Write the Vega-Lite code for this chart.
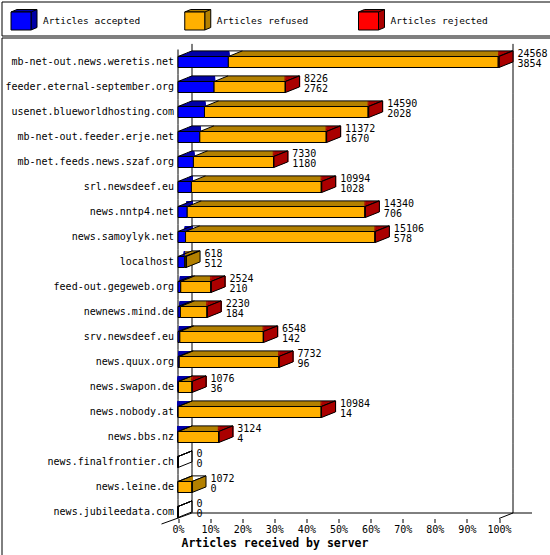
{
  "$schema": "https://vega.github.io/schema/vega-lite/v6.json",
  "padding": 0.5,
  "spacing": 0,
  "background": "white",
  "config": {"view": {"stroke": "black", "strokeWidth": 1}, "font": "DejaVu Sans Mono"},
  "vconcat": [
    {
      "width": 549,
      "height": 34,
      "data": {"values": [
        {"type": "accepted", "label": "Articles accepted"},
        {"type": "refused", "label": "Articles refused"},
        {"type": "rejected", "label": "Articles rejected"}
      ]},
      "encoding": {
        "x": {"field": "type", "type": "nominal", "sort": null, "scale": {"type": "point", "range": [19.5, 367], "padding": 0}, "axis": null}
      },
      "layer": [
        {
          "mark": {"type": "point", "filled": true, "opacity": 1, "size": 400, "stroke": "black", "strokeWidth": 1, "yOffset": 2.5,
            "shape": "M -1 -0.9 L -0.4 -1.15 L 1.6 -1.15 L 1.6 0.65 L 1 0.9 L 1 -0.9 Z M 1 -0.9 L 1.6 -1.15"},
          "encoding": {"fill": {"field": "type", "type": "nominal", "scale": {"domain": ["accepted", "refused", "rejected"], "range": ["#0000a8", "#b38000", "#aa0000"]}, "legend": null}}
        },
        {
          "mark": {"type": "point", "filled": true, "opacity": 1, "size": 400, "stroke": "black", "strokeWidth": 1, "yOffset": 2.5,
            "shape": "M -1 -0.9 L 1 -0.9 L 1 0.9 L -1 0.9 Z"},
          "encoding": {"color": {"field": "type", "type": "nominal", "scale": {"domain": ["accepted", "refused", "rejected"], "range": ["#0000ff", "#ffb000", "#ff0000"]}, "legend": null}}
        },
        {
          "mark": {"type": "text", "align": "left", "baseline": "middle", "dx": 22, "yOffset": 2.5, "fontSize": 9.5, "font": "DejaVu Sans Mono", "color": "black"},
          "encoding": {"text": {"field": "label", "type": "nominal"}}
        }
      ]
    },
    {
      "width": 549,
      "height": 519,
      "data": {"values": [
        {"server": "mb-net-out.news.weretis.net", "offered": 24568, "accepted": 3854, "refused": 20654, "rejected": 60},
        {"server": "feeder.eternal-september.org", "offered": 8226, "accepted": 2762, "refused": 5444, "rejected": 20},
        {"server": "usenet.blueworldhosting.com", "offered": 14590, "accepted": 2028, "refused": 12522, "rejected": 40},
        {"server": "mb-net-out.feeder.erje.net", "offered": 11372, "accepted": 1670, "refused": 9672, "rejected": 30},
        {"server": "mb-net.feeds.news.szaf.org", "offered": 7330, "accepted": 1180, "refused": 6130, "rejected": 20},
        {"server": "srl.newsdeef.eu", "offered": 10994, "accepted": 1028, "refused": 9936, "rejected": 30},
        {"server": "news.nntp4.net", "offered": 14340, "accepted": 706, "refused": 13594, "rejected": 40},
        {"server": "news.samoylyk.net", "offered": 15106, "accepted": 578, "refused": 14488, "rejected": 40},
        {"server": "localhost", "offered": 618, "accepted": 512, "refused": 106, "rejected": 0},
        {"server": "feed-out.gegeweb.org", "offered": 2524, "accepted": 210, "refused": 2304, "rejected": 10},
        {"server": "newnews.mind.de", "offered": 2230, "accepted": 184, "refused": 2036, "rejected": 10},
        {"server": "srv.newsdeef.eu", "offered": 6548, "accepted": 142, "refused": 6386, "rejected": 20},
        {"server": "news.quux.org", "offered": 7732, "accepted": 96, "refused": 7616, "rejected": 20},
        {"server": "news.swapon.de", "offered": 1076, "accepted": 36, "refused": 1036, "rejected": 4},
        {"server": "news.nobody.at", "offered": 10984, "accepted": 14, "refused": 10940, "rejected": 30},
        {"server": "news.bbs.nz", "offered": 3124, "accepted": 4, "refused": 3110, "rejected": 10},
        {"server": "news.finalfrontier.ch", "offered": 0, "accepted": 0, "refused": 0, "rejected": 0},
        {"server": "news.leine.de", "offered": 1072, "accepted": 0, "refused": 1072, "rejected": 0},
        {"server": "news.jubileedata.com", "offered": 0, "accepted": 0, "refused": 0, "rejected": 0}
      ]},
      "transform": [
        {"joinaggregate": [{"op": "max", "field": "offered", "as": "maxoffered"}]},
        {"fold": ["accepted", "refused", "rejected"], "as": ["type", "count"]},
        {"stack": "count", "groupby": ["server"], "sort": [{"field": "type", "order": "ascending"}], "as": ["x0", "x1"]}
      ],
      "layer": [
        {
          "transform": [{"filter": "datum.type == 'accepted' && datum.server != 'news.jubileedata.com'"}],
          "mark": {"type": "point", "filled": false, "opacity": 1, "size": 400, "color": "black", "strokeWidth": 1,
            "shape": "M 0 -1.25 L 0 1.25 M 1.4 -1.81 L 1.4 0.69"},
          "encoding": {"x": {"field": "x0", "type": "quantitative"}, "y": {"field": "server", "type": "nominal"}}
        },
        {
          "transform": [{"filter": "datum.type == 'accepted' && datum.server == 'news.jubileedata.com'"}],
          "mark": {"type": "point", "filled": false, "opacity": 1, "size": 400, "color": "black", "strokeWidth": 1,
            "shape": "M 0 -1.25 L 0 0.65 M 1.4 -1.81 L 1.4 0.1 M -1.65 1.2 L 1.4 0.1"},
          "encoding": {"x": {"field": "x0", "type": "quantitative"}, "y": {"field": "server", "type": "nominal"}}
        },
        {
          "transform": [{"filter": "datum.type == 'accepted' && datum.server != 'news.jubileedata.com'"}],
          "mark": {"type": "point", "filled": false, "opacity": 1, "size": 400, "color": "black", "strokeWidth": 1,
            "shape": "M 1.4 -1.81 L 1.4 0.69"},
          "encoding": {"x": {"field": "maxoffered", "type": "quantitative"}, "y": {"field": "server", "type": "nominal"}}
        },
        {
          "transform": [{"filter": "datum.type == 'accepted' && datum.server == 'news.jubileedata.com'"}],
          "mark": {"type": "point", "filled": false, "opacity": 1, "size": 400, "color": "black", "strokeWidth": 1,
            "shape": "M 1.4 -1.81 L 1.4 0.1 M 0 0.65 L 1.4 0.1"},
          "encoding": {"x": {"field": "maxoffered", "type": "quantitative"}, "y": {"field": "server", "type": "nominal"}}
        },
        {
          "transform": [{"filter": "datum.type == 'accepted' && datum.server == 'news.jubileedata.com'"}],
          "mark": {"type": "rule", "color": "black", "strokeWidth": 1, "xOffset": 14, "x2Offset": 33, "yOffset": 1},
          "encoding": {"x": {"field": "x0", "type": "quantitative"}, "x2": {"field": "maxoffered"}, "y": {"field": "server", "type": "nominal"}}
        },
        {
          "transform": [{"filter": "datum.count > 0"}],
          "mark": {"type": "bar", "height": 9, "strokeWidth": 2, "xOffset": 14, "yOffset": -5.6},
          "encoding": {
            "y": {"field": "server", "type": "nominal"}, "x": {"field": "x0", "type": "quantitative"}, "x2": {"field": "x1"},
            "fill": {"field": "type", "type": "nominal", "scale": {"domain": ["accepted", "refused", "rejected"], "range": ["#0000a8", "#b38000", "#aa0000"]}, "legend": null},
            "stroke": {"field": "type", "type": "nominal", "scale": {"domain": ["accepted", "refused", "rejected"], "range": ["#0000a8", "#b38000", "#aa0000"]}, "legend": null}
          }
        },
        {
          "transform": [{"filter": "datum.count > 0"}],
          "mark": {"type": "bar", "height": 9, "strokeWidth": 2, "xOffset": 12, "yOffset": -4.8},
          "encoding": {
            "y": {"field": "server", "type": "nominal"}, "x": {"field": "x0", "type": "quantitative"}, "x2": {"field": "x1"},
            "fill": {"field": "type", "type": "nominal", "legend": null}, "stroke": {"field": "type", "type": "nominal", "legend": null}
          }
        },
        {
          "transform": [{"filter": "datum.count > 0"}],
          "mark": {"type": "bar", "height": 9, "strokeWidth": 2, "xOffset": 10, "yOffset": -4},
          "encoding": {
            "y": {"field": "server", "type": "nominal"}, "x": {"field": "x0", "type": "quantitative"}, "x2": {"field": "x1"},
            "fill": {"field": "type", "type": "nominal", "legend": null}, "stroke": {"field": "type", "type": "nominal", "legend": null}
          }
        },
        {
          "transform": [{"filter": "datum.count > 0"}],
          "mark": {"type": "bar", "height": 9, "strokeWidth": 2, "xOffset": 8, "yOffset": -3.2},
          "encoding": {
            "y": {"field": "server", "type": "nominal"}, "x": {"field": "x0", "type": "quantitative"}, "x2": {"field": "x1"},
            "fill": {"field": "type", "type": "nominal", "legend": null}, "stroke": {"field": "type", "type": "nominal", "legend": null}
          }
        },
        {
          "transform": [{"filter": "datum.count > 0"}],
          "mark": {"type": "bar", "height": 9, "strokeWidth": 2, "xOffset": 6, "yOffset": -2.4},
          "encoding": {
            "y": {"field": "server", "type": "nominal"}, "x": {"field": "x0", "type": "quantitative"}, "x2": {"field": "x1"},
            "fill": {"field": "type", "type": "nominal", "legend": null}, "stroke": {"field": "type", "type": "nominal", "legend": null}
          }
        },
        {
          "transform": [{"filter": "datum.count > 0"}],
          "mark": {"type": "bar", "height": 9, "strokeWidth": 2, "xOffset": 4, "yOffset": -1.6},
          "encoding": {
            "y": {"field": "server", "type": "nominal"}, "x": {"field": "x0", "type": "quantitative"}, "x2": {"field": "x1"},
            "fill": {"field": "type", "type": "nominal", "legend": null}, "stroke": {"field": "type", "type": "nominal", "legend": null}
          }
        },
        {
          "transform": [{"filter": "datum.count > 0"}],
          "mark": {"type": "bar", "height": 9, "strokeWidth": 2, "xOffset": 2, "yOffset": -0.8},
          "encoding": {
            "y": {"field": "server", "type": "nominal"}, "x": {"field": "x0", "type": "quantitative"}, "x2": {"field": "x1"},
            "fill": {"field": "type", "type": "nominal", "legend": null}, "stroke": {"field": "type", "type": "nominal", "legend": null}
          }
        },
        {
          "transform": [{"filter": "datum.type == 'accepted' && datum.offered > 0"}],
          "mark": {"type": "rule", "color": "black", "strokeWidth": 1, "xOffset": 14, "x2Offset": 14, "yOffset": -11.1},
          "encoding": {"x": {"field": "x0", "type": "quantitative"}, "x2": {"field": "offered"}, "y": {"field": "server", "type": "nominal"}}
        },
        {
          "mark": {"type": "point", "filled": false, "opacity": 1, "size": 400, "color": "black", "strokeWidth": 1,
            "shape": "M 0 -0.55 L 1.4 -1.11"},
          "encoding": {"x": {"field": "x0", "type": "quantitative"}, "y": {"field": "server", "type": "nominal"}}
        },
        {
          "transform": [{"filter": "datum.type == 'accepted' && datum.rejected > 0"}],
          "mark": {"type": "point", "filled": true, "opacity": 1, "size": 400, "fill": "#aa0000", "stroke": "black", "strokeWidth": 1,
            "shape": "M 0 -0.55 L 1.4 -1.11 L 1.4 -0.01 L 0 0.55 Z"},
          "encoding": {"x": {"field": "offered", "type": "quantitative"}, "y": {"field": "server", "type": "nominal"}}
        },
        {
          "transform": [{"filter": "datum.type == 'accepted' && datum.rejected == 0 && datum.offered > 0"}],
          "mark": {"type": "point", "filled": true, "opacity": 1, "size": 400, "fill": "#b38000", "stroke": "black", "strokeWidth": 1,
            "shape": "M 0 -0.55 L 1.4 -1.11 L 1.4 -0.01 L 0 0.55 Z"},
          "encoding": {"x": {"field": "offered", "type": "quantitative"}, "y": {"field": "server", "type": "nominal"}}
        },
        {
          "transform": [{"filter": "datum.type == 'accepted' && datum.offered == 0"}],
          "mark": {"type": "point", "filled": false, "opacity": 1, "size": 400, "color": "black", "strokeWidth": 1,
            "shape": "M 0 -0.55 L 1.4 -1.11 L 1.4 -0.01 L 0 0.55 Z"},
          "encoding": {"x": {"field": "offered", "type": "quantitative"}, "y": {"field": "server", "type": "nominal"}}
        },
        {
          "mark": {"type": "bar", "height": 11, "stroke": "black", "strokeWidth": 1},
          "encoding": {
            "y": {"field": "server", "type": "nominal",
              "scale": {"domain": ["mb-net-out.news.weretis.net", "feeder.eternal-september.org", "usenet.blueworldhosting.com", "mb-net-out.feeder.erje.net", "mb-net.feeds.news.szaf.org", "srl.newsdeef.eu", "news.nntp4.net", "news.samoylyk.net", "localhost", "feed-out.gegeweb.org", "newnews.mind.de", "srv.newsdeef.eu", "news.quux.org", "news.swapon.de", "news.nobody.at", "news.bbs.nz", "news.finalfrontier.ch", "news.leine.de", "news.jubileedata.com"],
                "range": [12, 487], "paddingInner": 0, "paddingOuter": 0},
              "axis": {"orient": "left", "offset": -176.5, "domain": false, "ticks": false, "tickSize": 0, "grid": false, "labelPadding": 4.5,
                "labelFont": "DejaVu Sans Mono", "labelFontSize": 10, "labelColor": "black", "title": null, "labelLimit": 300}},
            "x": {"field": "x0", "type": "quantitative",
              "scale": {"domain": [0, 24568], "range": [176.5, 497.5], "nice": false, "zero": true},
              "axis": {"values": [0, 2456.8, 4913.6, 7370.4, 9827.2, 12284, 14740.8, 17197.6, 19654.4, 22111.2, 24568],
                "labelExpr": "format(datum.value / 24568, '.0%')", "domain": false, "grid": false, "tickColor": "black", "tickSize": 4,
                "labelFont": "DejaVu Sans Mono", "labelFontSize": 10, "labelColor": "black", "labelPadding": 2, "labelFlush": false, "labelOverlap": false,
                "offset": -38, "title": "Articles received by server", "titleFont": "DejaVu Sans Mono", "titleFontSize": 11.5,
                "titleFontWeight": "bold", "titleColor": "black", "titleX": 179.5, "titleAlign": "left", "titlePadding": 3}},
            "x2": {"field": "x1"},
            "color": {"field": "type", "type": "nominal", "scale": {"domain": ["accepted", "refused", "rejected"], "range": ["#0000ff", "#ffb000", "#ff0000"]}, "legend": null}
          }
        },
        {
          "transform": [{"filter": "datum.type == 'accepted'"}],
          "mark": {"type": "text", "align": "left", "baseline": "alphabetic", "dx": 18.5, "dy": -5, "fontSize": 10, "font": "DejaVu Sans Mono", "color": "black"},
          "encoding": {"x": {"field": "offered", "type": "quantitative"}, "y": {"field": "server", "type": "nominal"}, "text": {"field": "offered", "type": "quantitative"}}
        },
        {
          "transform": [{"filter": "datum.type == 'accepted'"}],
          "mark": {"type": "text", "align": "left", "baseline": "alphabetic", "dx": 18.5, "dy": 5, "fontSize": 10, "font": "DejaVu Sans Mono", "color": "black"},
          "encoding": {"x": {"field": "offered", "type": "quantitative"}, "y": {"field": "server", "type": "nominal"}, "text": {"field": "accepted", "type": "quantitative"}}
        }
      ]
    }
  ]
}
